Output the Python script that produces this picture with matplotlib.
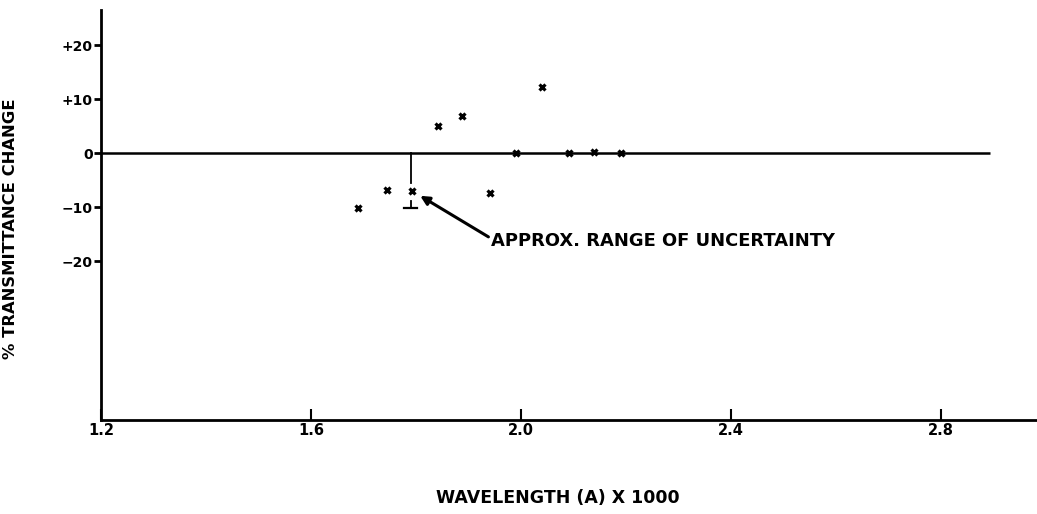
import matplotlib
matplotlib.use("Agg")
import matplotlib.pyplot as plt

# wavelength in units of 1000 A, transmittance change in percent
wavelength = [1.69, 1.745, 1.792, 1.842, 1.888, 1.941, 1.99, 2.04, 2.092, 2.14, 2.19]
change = [-10.2, -6.9, -7.0, 5.0, 6.9, -7.4, 0.0, 12.2, 0.0, 0.2, 0.0]

# uncertainty bracket drawn on the 1.8 point
err_x = 1.790
err_top, err_bot = 0.0, -10.2

yticks = [20, 10, 0, -10, -20]
ytick_labels = ["+20", "+10", "0", "\u221210", "\u221220"]
xticks = [1.2, 1.6, 2.0, 2.4, 2.8]
xtick_labels = ["1.2", "1.6", "2.0", "2.4", "2.8"]

plt.rcParams["font.family"] = ["DejaVu Sans"]
plt.rcParams["font.weight"] = "bold"

fig = plt.figure(figsize=(10.37, 5.14), dpi=100)
ax = fig.add_axes([101 / 1037, 1 - 420 / 514, 936 / 1037, 410 / 514])
ax.set_xlim(1.2, 2.983)
ax.set_ylim(-49.4, 26.5)

for side in ("top", "right"):
    ax.spines[side].set_visible(False)
for side in ("left", "bottom"):
    ax.spines[side].set_linewidth(2.0)

# zero reference line
ax.plot([1.2, 2.893], [0, 0], color="black", lw=1.8, solid_capstyle="butt")

# uncertainty range: stem from zero down to the point, short stub with cap below it
ax.plot([err_x, err_x], [err_top, -5.5], color="black", lw=1.3)
ax.plot([err_x, err_x], [-8.9, err_bot], color="black", lw=1.3)
ax.plot([err_x - 0.012, err_x + 0.012], [err_bot, err_bot], color="black", lw=1.6)

ax.plot(wavelength, change, linestyle="none", marker="x", color="black",
        ms=5, mew=2.3)

ax.annotate("", xy=(1.808, -7.9), xytext=(1.938, -15.5),
            arrowprops=dict(arrowstyle="-|>", color="black", lw=2.2,
                            mutation_scale=13, shrinkA=0, shrinkB=0))
ax.text(1.942, -16.3, "APPROX. RANGE OF UNCERTAINTY", fontsize=12.9,
        fontweight="bold", va="center", ha="left")

ax.set_yticks(yticks)
ax.set_yticklabels(ytick_labels)
ax.set_xticks(xticks)
ax.set_xticklabels(xtick_labels)
ax.tick_params(axis="y", direction="out", length=5, width=2, labelsize=10, pad=1)
ax.tick_params(axis="x", direction="in", length=8, width=1.5, labelsize=10.5, pad=2)

ax.set_ylabel("% TRANSMITTANCE CHANGE", fontsize=11.8, fontweight="bold")
ax.yaxis.set_label_coords(-0.0886, 0.466)
ax.set_xlabel("WAVELENGTH (A) X 1000", fontsize=12.5, fontweight="bold")
ax.xaxis.set_label_coords(0.488, -0.168)

fig.savefig("out.png", dpi=100)
